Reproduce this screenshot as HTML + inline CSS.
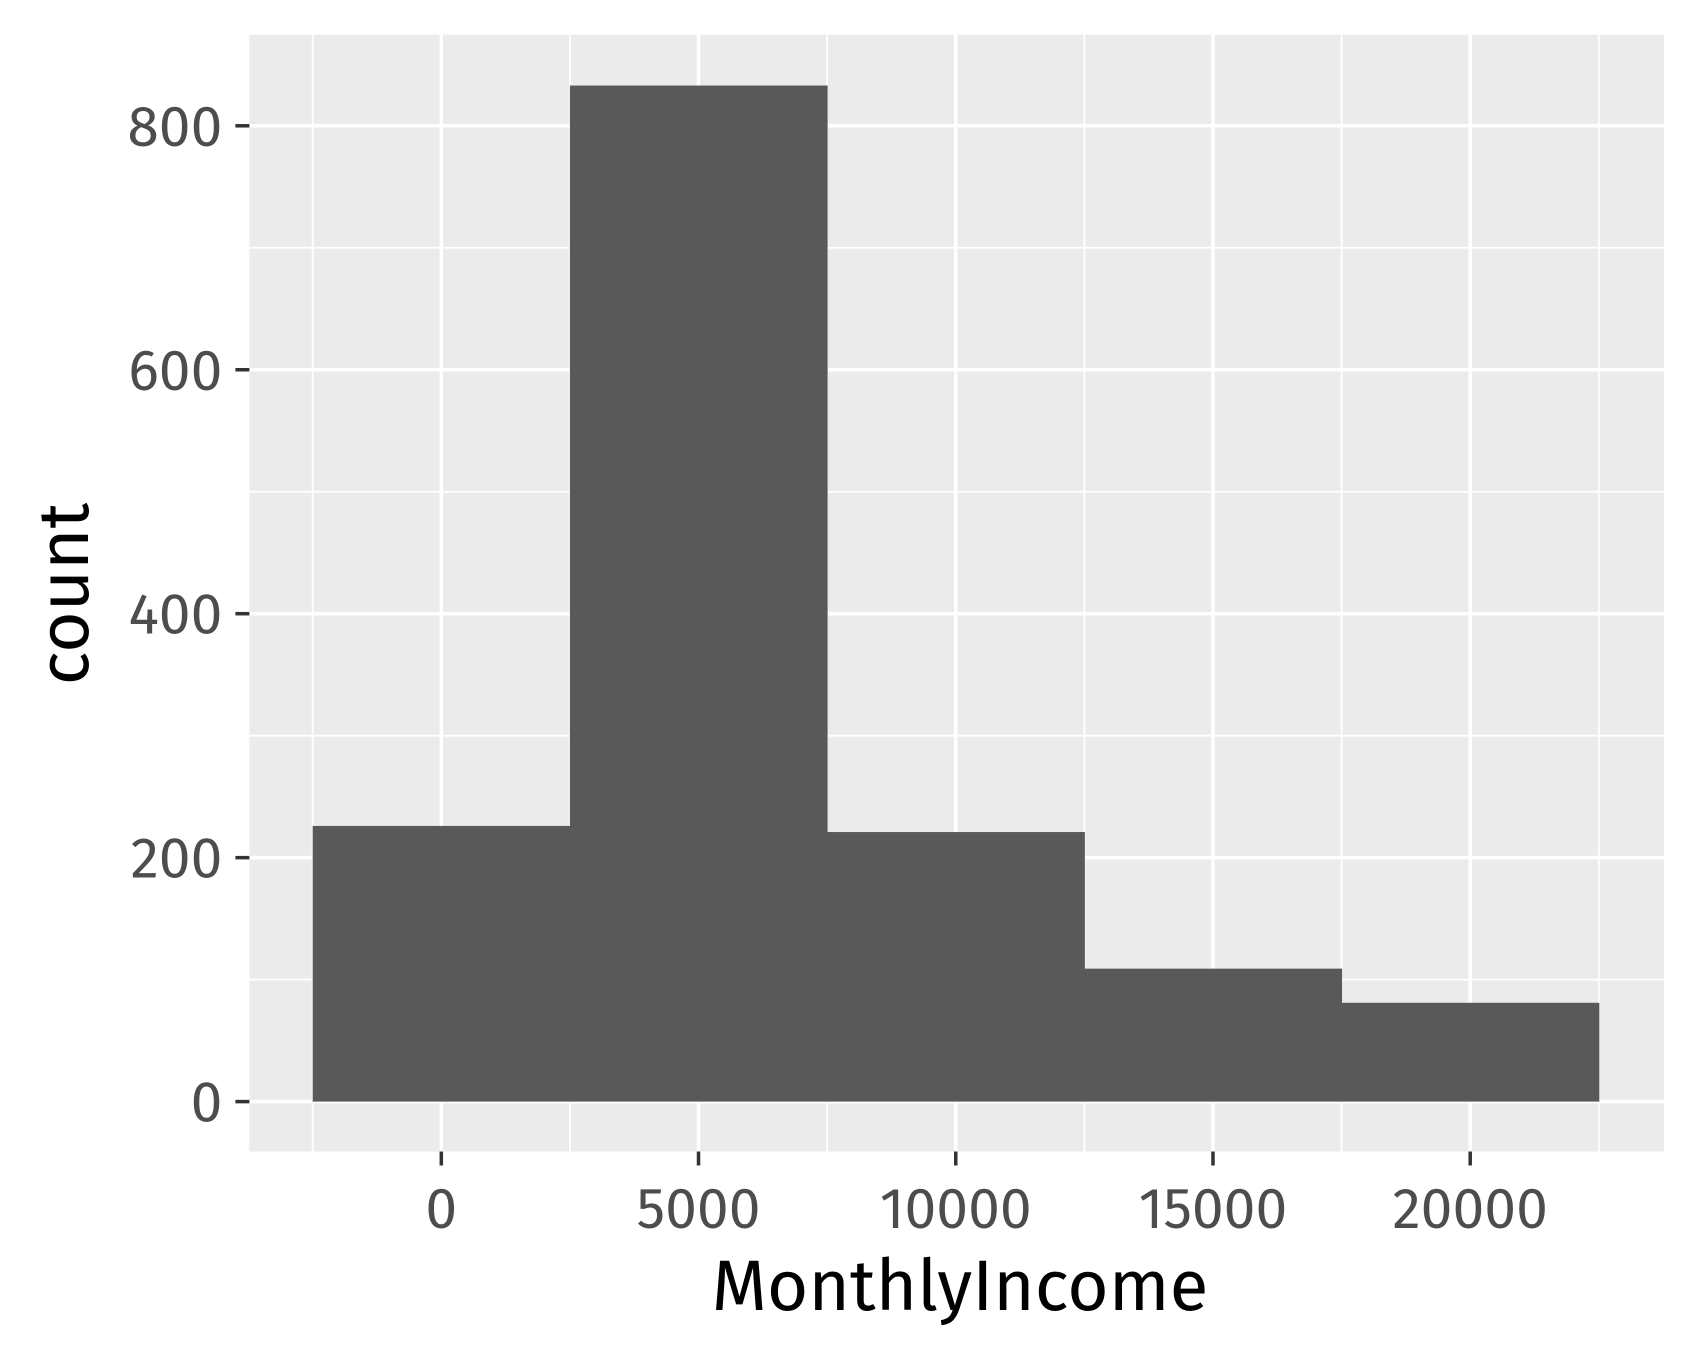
<!DOCTYPE html>
<html><head><meta charset="utf-8"><style>
body{margin:0;background:#fff;}
svg{display:block;font-family:"Fira Sans","Liberation Sans",sans-serif;}
</style></head><body>
<svg id="chart" width="1700" height="1360" viewBox="0 0 1700 1360" xmlns="http://www.w3.org/2000/svg">
<rect width="1700" height="1360" fill="#fff"/>
<rect x="249.4" y="34.7" width="1414.6" height="1116.8" fill="#ebebeb"/>
<g id="grid"></g><g id="bars"></g><g id="axes"></g>
<text x="960" y="1310" font-size="71" text-anchor="middle" fill="#000">MonthlyIncome</text>
<text transform="translate(88,594) rotate(-90)" font-size="71" text-anchor="middle" fill="#000">count</text>
</svg>
<script>
const binCenters=[0,5000,10000,15000,20000];
const counts=[226,833,221,109,81];
const binWidth=5000;
const xTicks=[0,5000,10000,15000,20000];
const yTicks=[0,200,400,600,800];
const NS="http://www.w3.org/2000/svg";
const PL=249.4,PR=1664,PT=34.7,PB=1151.5;
const X0=441.3,XS=(1470.2-441.3)/20000;
const Y0=1101.6,YS=(1101.6-125.8)/800;
const x=v=>X0+v*XS, y=v=>Y0-v*YS;
function mk(tag,attrs,parent){const e=document.createElementNS(NS,tag);for(const k in attrs)e.setAttribute(k,attrs[k]);document.getElementById(parent).appendChild(e);return e;}
for(let i=0;i<xTicks.length+1;i++){const v=xTicks[0]-2500+i*5000;
 const l=mk('line',{x1:x(v),x2:x(v),y1:PT,y2:PB,stroke:'#fff','stroke-width':1.8},'grid');
 
 }
for(let i=0;i<yTicks.length;i++){const v=yTicks[i]+100;
 const l=mk('line',{x1:PL,x2:PR,y1:y(v),y2:y(v),stroke:'#fff','stroke-width':1.8},'grid');
 
 }
xTicks.forEach(v=>{const l=mk('line',{x1:x(v),x2:x(v),y1:PT,y2:PB,stroke:'#fff','stroke-width':3.5},'grid');
 
 
 const t=mk('line',{x1:x(v),x2:x(v),y1:PB,y2:PB+14,stroke:'#333','stroke-width':3.5},'axes');
 
 
 const tx=mk('text',{x:x(v),y:1228,'font-size':57,'text-anchor':'middle',fill:'#4d4d4d'},'axes');
 tx.textContent=v;
 
 });
yTicks.forEach(v=>{const l=mk('line',{x1:PL,x2:PR,y1:y(v),y2:y(v),stroke:'#fff','stroke-width':3.5},'grid');
 
 
 const t=mk('line',{x1:PL-14,x2:PL,y1:y(v),y2:y(v),stroke:'#333','stroke-width':3.5},'axes');
 
 
 const tx=mk('text',{x:PL-27,y:y(v)+20,'font-size':57,'text-anchor':'end',fill:'#4d4d4d'},'axes');
 tx.textContent=v;
 
 });
binCenters.forEach((c,i)=>{const r=mk('rect',{x:x(c-binWidth/2),width:x(c+binWidth/2)-x(c-binWidth/2)+0.5,y:y(counts[i]),height:y(0)-y(counts[i]),fill:'#595959'},'bars');
 
 });
</script>
</body></html>
